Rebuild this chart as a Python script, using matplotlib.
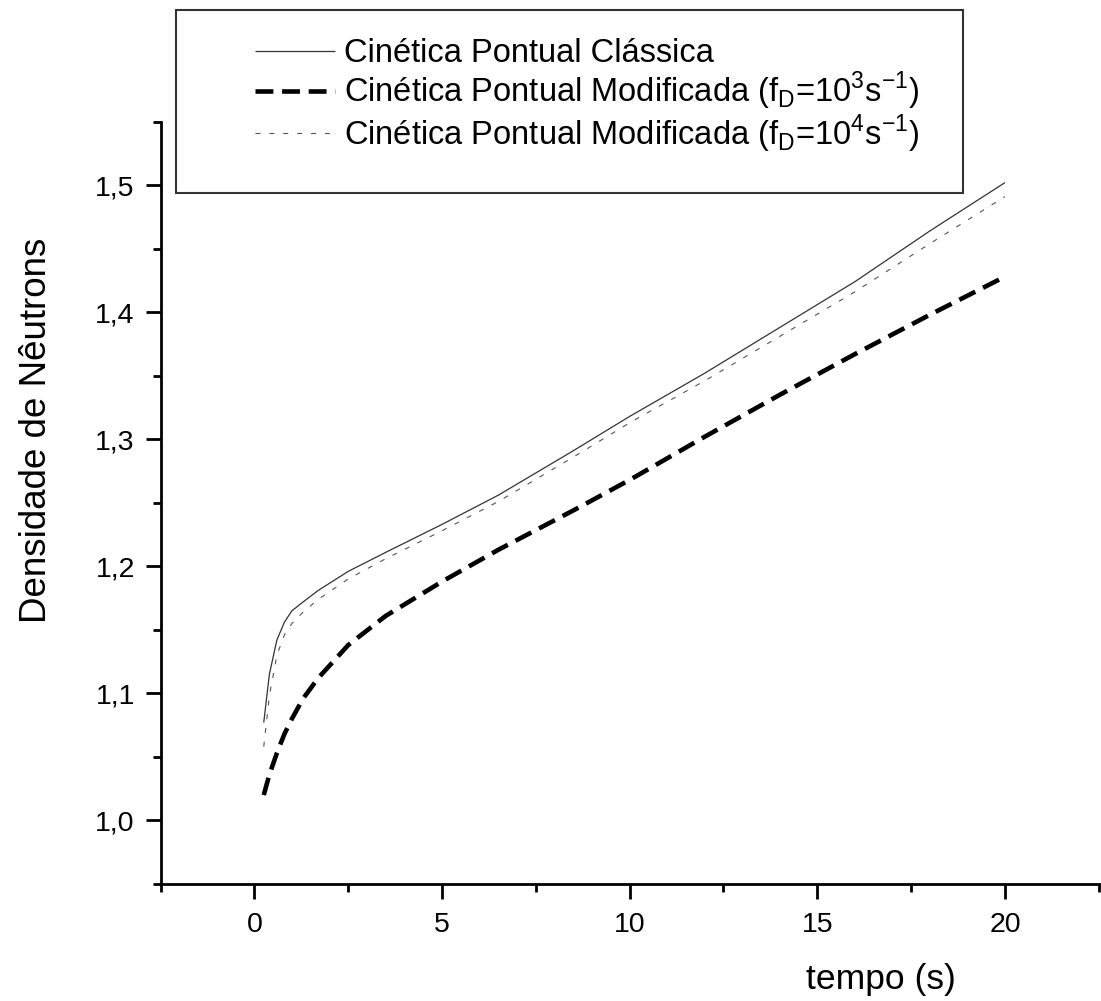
import matplotlib
matplotlib.use("Agg")
import matplotlib.pyplot as plt
from matplotlib.patches import Rectangle
from matplotlib.ticker import MultipleLocator, FuncFormatter

plt.rcParams['font.family'] = ['Liberation Sans', 'DejaVu Sans']
plt.rcParams['mathtext.fontset'] = 'custom'
plt.rcParams['mathtext.rm'] = 'Liberation Sans'

# data
tempo = [0.25, 0.4, 0.6, 0.8, 1.0, 1.3, 1.7, 2.5, 3.5, 5.0, 6.5, 8.5, 10, 12, 14, 16, 18, 20]
classica = [1.077, 1.115, 1.142, 1.156, 1.165, 1.172, 1.181, 1.196, 1.211, 1.233, 1.256,
            1.291, 1.318, 1.352, 1.388, 1.424, 1.464, 1.502]
mod_1e3 = [1.020, 1.036, 1.053, 1.068, 1.080, 1.096, 1.112, 1.138, 1.161, 1.188, 1.213,
           1.244, 1.268, 1.302, 1.335, 1.367, 1.398, 1.428]
mod_1e4 = [1.058, 1.098, 1.130, 1.146, 1.155, 1.164, 1.174, 1.190, 1.206, 1.228, 1.251,
           1.286, 1.313, 1.346, 1.381, 1.416, 1.454, 1.491]

labels = ['Cinética Pontual Clássica',
          r'Cinética Pontual Modificada (f$_{\mathregular{D}}$=10$^{\mathregular{3}}$s$^{\mathregular{-1}}$)',
          r'Cinética Pontual Modificada (f$_{\mathregular{D}}$=10$^{\mathregular{4}}$s$^{\mathregular{-1}}$)']

fig = plt.figure(figsize=(11.01, 10.01), dpi=100)
ax = fig.add_axes([0.1458, 0.1169, 0.8522, 0.7616])

l1, = ax.plot(tempo, classica, color='#333333', lw=0.9, solid_capstyle='butt')
l2, = ax.plot(tempo, mod_1e3, color='black', lw=3.3, linestyle=(0, (3.9, 1.9)))
l3, = ax.plot(tempo, mod_1e4, color='#555555', lw=0.8, linestyle=(0, (4.5, 8)))

ax.set_xlim(-2.5, 22.5)
ax.set_ylim(0.95, 1.55)
ax.xaxis.set_major_locator(MultipleLocator(5))
ax.xaxis.set_minor_locator(MultipleLocator(2.5))
ax.yaxis.set_major_locator(MultipleLocator(0.1))
ax.yaxis.set_minor_locator(MultipleLocator(0.05))
ax.yaxis.set_major_formatter(FuncFormatter(lambda v, p: f"{v:.1f}".replace('.', ',')))

for s in ['top', 'right']:
    ax.spines[s].set_visible(False)
for s in ['left', 'bottom']:
    ax.spines[s].set_linewidth(2.0)

ax.tick_params(which='major', direction='out', length=10.5, width=2.0, labelsize=20.5, pad=10)
ax.tick_params(which='minor', direction='out', length=5.5, width=2.0)
ax.tick_params(axis='y', which='major', pad=8)

ax.set_xlabel('tempo (s)', fontsize=25.5)
ax.xaxis.set_label_coords(0.768, -0.104)
ax.set_ylabel('Densidade de Nêutrons', fontsize=26.5)
ax.yaxis.set_label_coords(-0.114, 0.595)

leg = fig.legend([l1, l2, l3], labels, loc='upper left', bbox_to_anchor=(0.2316, 0.962),
                 frameon=False, fontsize=23.5, handlelength=2.45, handletextpad=0.28,
                 labelspacing=0.02, borderpad=0, borderaxespad=0)
fig.add_artist(Rectangle((0.160, 0.807), 0.715, 0.183, transform=fig.transFigure,
                         fill=False, edgecolor='#333333', lw=1.5))

fig.savefig('out.png', dpi=100)
